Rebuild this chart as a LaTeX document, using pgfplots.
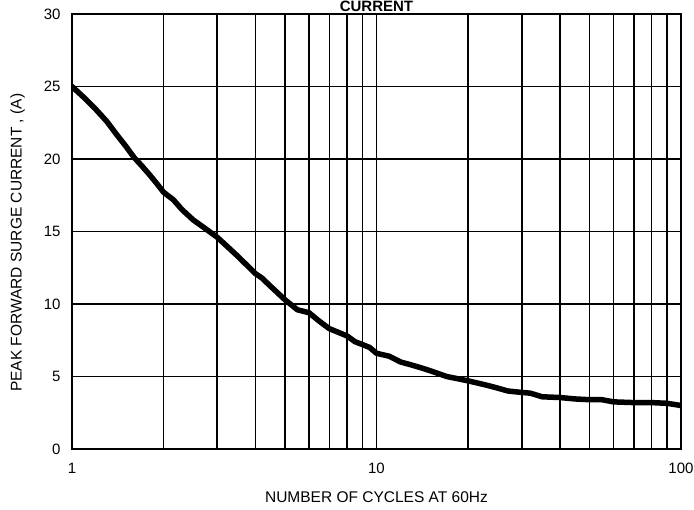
\documentclass[border=0pt]{standalone}
\usepackage{fontspec}
\setmainfont{Liberation Sans}
\usepackage{pgfplots}
\pgfplotsset{compat=1.18}
\begin{document}
\begin{tikzpicture}[x=1pt,y=1pt]
\path[use as bounding box] (-72,-61) rectangle (622,449);
\clip (-72,-61) rectangle (622,449);
\begin{axis}[
  at={(0,0)}, anchor=south west,
  scale only axis, width=609pt, height=435pt,
  xmode=log, xmin=1, xmax=100, ymin=0, ymax=30,
  log basis x=10,
  xtick={1,10,100}, xticklabels={1,10,100},
  minor xtick={2,3,4,5,6,7,8,9,20,30,40,50,60,70,80,90},
  ytick={0,5,10,15,20,25,30},
  grid=both,
  major grid style={black, line width=1.6pt},
  minor grid style={black, line width=1.6pt},
  axis line style={black, line width=2pt},
  tick style={draw=none},
  /pgf/number format/assume math mode=true,
  ticklabel style={font=\fontsize{15}{17}\selectfont},
  xticklabel style={anchor=north, yshift=-11pt},
  yticklabel style={anchor=east, xshift=-8pt},
  xlabel={NUMBER OF CYCLES AT 60Hz},
  ylabel={PEAK FORWARD SURGE CURRENT , (A)},
  label style={font=\fontsize{15.5}{17}\selectfont},
  xlabel style={at={(axis description cs:0.5,-0.110)}, anchor=center},
  ylabel style={at={(axis description cs:-0.0895,0.474)}, anchor=center},
  clip=true,
]
\addplot[black, line width=5.5pt, line join=round, line cap=round] coordinates {
(1,25.0) (1.1,24.2) (1.2,23.4) (1.3,22.6) (1.4,21.7) (1.5,20.9) (1.6,20.1)
(1.7,19.5) (1.8,18.9) (1.9,18.3) (2,17.7) (2.15,17.2) (2.3,16.5) (2.5,15.8)
(2.7,15.3) (3,14.6) (3.5,13.3) (4,12.1) (4.2,11.8) (4.5,11.2) (5,10.3)
(5.5,9.6) (6,9.4) (6.5,8.8) (7,8.3) (8,7.8) (8.5,7.4) (9,7.2) (9.5,7.0)
(10,6.6) (11,6.4) (12,6.0) (13,5.8) (14,5.6) (15,5.4) (17,5.0) (20,4.7)
(23,4.4) (25,4.2) (27,4.0) (30,3.9) (32,3.85) (35,3.6) (40,3.55) (45,3.45)
(50,3.4) (55,3.4) (60,3.25) (70,3.2) (80,3.2) (90,3.15) (100,3.0)
};
\end{axis}
\node[anchor=base, font=\bfseries\fontsize{15}{17}\selectfont] at (304.5,437.5) {CURRENT};
\end{tikzpicture}
\end{document}
